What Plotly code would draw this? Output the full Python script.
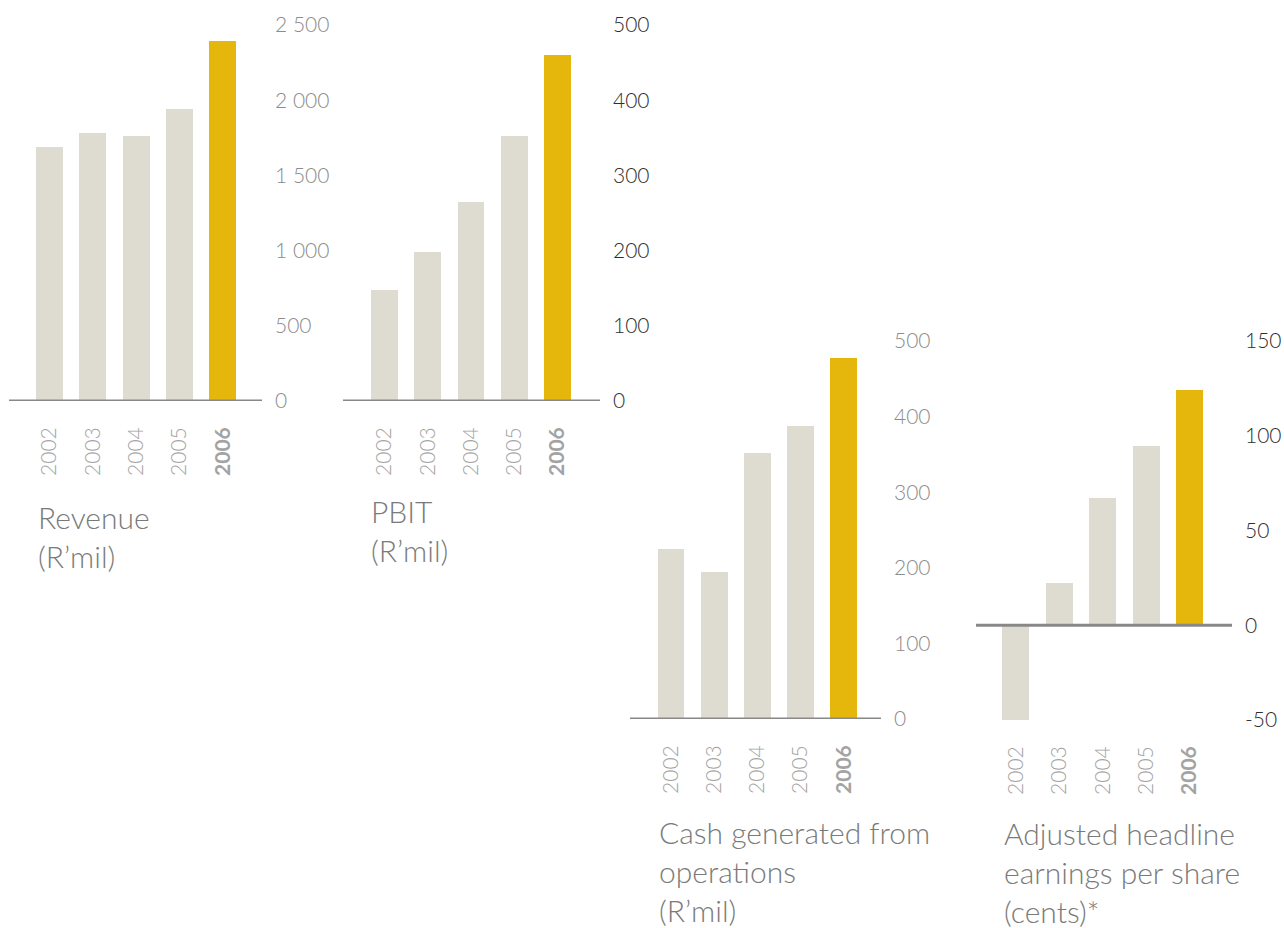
import plotly.graph_objects as go

# ---------------- data ----------------
years = ["2002", "2003", "2004", "2005", "2006"]
year_labels = ["2002", "2003", "2004", "2005", "<b>2006</b>"]

revenue = [1690, 1781, 1759, 1943, 2392]
pbit = [148, 198, 264, 352, 460]
cash = [225, 195, 352, 388, 478]
eps = [-50, 22.4, 67.3, 94.4, 124.3]

revenue_ticks = [0, 500, 1000, 1500, 2000, 2500]
revenue_ticktext = ["0", "500", "1 000", "1 500", "2 000", "2 500"]
pbit_ticks = [0, 100, 200, 300, 400, 500]
pbit_ticktext = ["0", "100", "200", "300", "400", "500"]
cash_ticks = [0, 100, 200, 300, 400, 500]
cash_ticktext = ["0", "100", "200", "300", "400", "500"]
eps_ticks = [-50, 0, 50, 100, 150]
eps_ticktext = ["-50", "0", "50", "100", "150"]

titles = [
    "Revenue<br>(R’mil)",
    "PBIT<br>(R’mil)",
    "Cash generated from<br>operations<br>(R’mil)",
    "Adjusted headline<br>earnings per share<br>(cents)*",
]

# ---------------- styling / layout ----------------
W, H = 1284, 928
GREY_BAR = "#DEDCD0"
GOLD_BAR = "#E5B60B"
FONT = "Lato"

def fx(px):
    return px / W

def fy(py):
    return 1 - py / H

def px_x(a, b):
    return [fx(a), fx(b)]

def px_y(top, bottom):
    return [fy(bottom), fy(top)]

panels = [
    dict(values=revenue, ticks=revenue_ticks, ticktext=revenue_ticktext, yrange=[0, 2500],
         xdom=(9, 262), ydom=(25, 401), xr=[-0.93, 4.9], tickcolor="#8C8C8C",
         title=titles[0], tx=36, ty=497),
    dict(values=pbit, ticks=pbit_ticks, ticktext=pbit_ticktext, yrange=[0, 500],
         xdom=(343, 600), ydom=(25, 401), xr=[-0.96, 4.98], tickcolor="#2E2E2E",
         title=titles[1], tx=369, ty=491),
    dict(values=cash, ticks=cash_ticks, ticktext=cash_ticktext, yrange=[0, 500],
         xdom=(630, 881), ydom=(341, 719), xr=[-0.95, 4.86], tickcolor="#8C8C8C",
         title=titles[2], tx=657, ty=812),
    dict(values=eps, ticks=eps_ticks, ticktext=eps_ticktext, yrange=[-50, 150],
         xdom=(976, 1232), ydom=(341, 720), xr=[-0.92, 4.98], tickcolor="#2E2E2E",
         title=titles[3], tx=1002, ty=813),
]

fig = go.Figure()
layout = dict(
    width=W, height=H, autosize=False,
    margin=dict(l=0, r=0, t=0, b=0, pad=0, autoexpand=False),
    paper_bgcolor="white", plot_bgcolor="white",
    showlegend=False,
    font=dict(family=FONT, weight=300, color="#7A7A7A"),
    bargap=0,
)
shapes = []
annotations = []

for i, p in enumerate(panels):
    n = "" if i == 0 else str(i + 1)
    xa, ya = "x" + n, "y" + n
    colors = [GREY_BAR] * (len(years) - 1) + [GOLD_BAR]
    fig.add_trace(go.Bar(
        x=years, y=p["values"], xaxis=xa, yaxis=ya,
        marker=dict(color=colors, line=dict(width=0)),
        width=0.62, hoverinfo="skip",
    ))
    layout["xaxis" + n] = dict(
        domain=px_x(*p["xdom"]), anchor=ya, type="category",
        categoryorder="array", categoryarray=years,
        range=p["xr"], showgrid=False, zeroline=False, showline=False,
        tickmode="array", tickvals=years, ticktext=year_labels,
        tickangle=-90, ticks="", ticklabelstandoff=21, automargin=False,
        tickfont=dict(family=FONT, size=21, color="#A3A3A3", weight=300),
        fixedrange=True,
    )
    layout["yaxis" + n] = dict(
        domain=px_y(*p["ydom"]), anchor=xa, side="right",
        range=p["yrange"], showgrid=False, zeroline=False, showline=False,
        tickmode="array", tickvals=p["ticks"], ticktext=p["ticktext"],
        ticks="", ticklabelstandoff=12, automargin=False,
        tickfont=dict(family=FONT, size=21, color=p["tickcolor"], weight=300),
        fixedrange=True,
    )
    shapes.append(dict(
        type="line", xref=xa + " domain", yref=ya,
        x0=0, x1=1, y0=0, y1=0,
        line=dict(color="#888888", width=3), layer="above",
    ))
    annotations.append(dict(
        text=p["title"], xref="paper", yref="paper",
        x=fx(p["tx"]), y=fy(p["ty"]), xanchor="left", yanchor="top",
        align="left", showarrow=False,
        font=dict(family=FONT, size=30, color="#7A7A7A", weight=300),
    ))

layout["shapes"] = shapes
layout["annotations"] = annotations
fig.update_layout(**layout)
fig.write_html(
    "out.html",
    config={"displayModeBar": False, "staticPlot": True},
    post_script="document.body.style.margin='0';document.body.style.overflow='hidden';",
)
